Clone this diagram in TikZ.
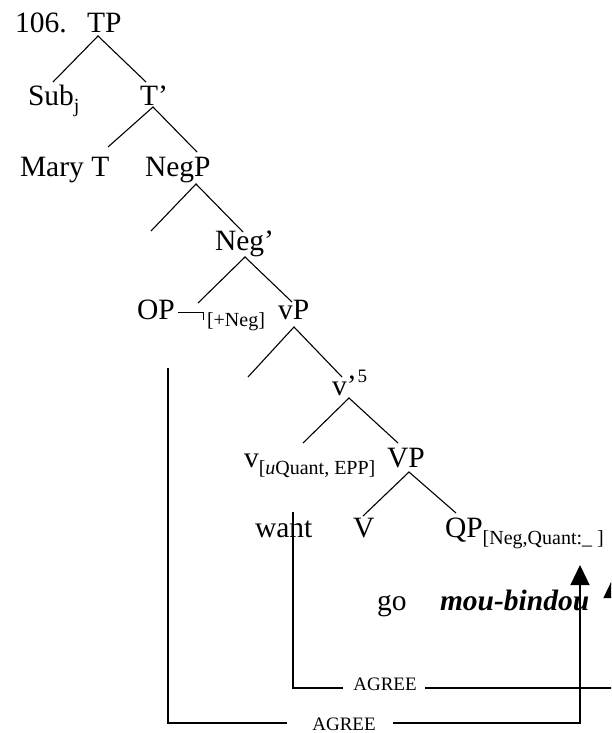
\documentclass[tikz,border=0pt]{standalone}
\usepackage{fontspec}
\setmainfont{Liberation Serif}
\usetikzlibrary{arrows.meta}

% lowered feature subscript and raised superscript
\newcommand{\featsub}[1]{\raisebox{-7pt}{\fontsize{20}{22}\selectfont #1}}
\newcommand{\featsup}[1]{\raisebox{13pt}{\fontsize{19}{21}\selectfont #1}}

\tikzset{
  word/.style={anchor=base west, inner sep=0pt, outer sep=0pt,
               font=\fontsize{29.5}{32}\selectfont},
  agreelabel/.style={anchor=base, inner sep=0pt, outer sep=0pt,
               font=\fontsize{19}{21}\selectfont},
  branch/.style={line width=1.1pt},
  agreeline/.style={line width=1.25pt},
  agreearrow/.style={line width=1.25pt, -{Triangle[width=19pt,length=20pt]}}
}

\begin{document}
\begin{tikzpicture}[x=1pt,y=-1pt]
\clip (0,0) rectangle (611,733);
\fill[white] (0,0) rectangle (611,733);

% labels of the tree
\node[word] (num)    at (15,33)  {106.};
\node[word] (tp)     at (87,33)  {TP};
\node[word] (sub)    at (28,106) {Sub\featsub{j}};
\node[word] (tbar)   at (140,106){T’};
\node[word] (mary)   at (20,176) {Mary T};
\node[word] (negp)   at (145,176){NegP};
\node[word] (negbar) at (215,250){Neg’};
\node[word] (op)     at (137,319){OP};
\node[word] (negft)  at (207,319){\featsub{[+Neg]}};
\node[word] (vp)     at (278,319){vP};
\node[word] (vbar)   at (332,395){v’\kern1pt\featsup{5}};
\node[word] (vlow)   at (244,467){v\featsub{[\textit{u}Quant, EPP]}};
\node[word] (vpbig)  at (387,467){VP};
\node[word] (want)   at (255,537){want};
\node[word] (verb)   at (353,537){V};
\node[word] (qp)     at (445,537){QP\featsub{[Neg,Quant:\_ ]}};
\node[word] (go)     at (377,610){go};
\node[word] (mou)    at (440,610){\bfseries\itshape mou-bindou};

% negation hook after OP
\coordinate (hookA) at (178,312);
\coordinate (hookB) at (203,312);
\coordinate (hookC) at (203,320);
\draw[line width=1pt] (hookA) -- (hookB) -- (hookC);

% branch points
\coordinate (tpB)  at (98,36);   \coordinate (tpL)  at (53,82);   \coordinate (tpR)  at (146,82);
\coordinate (tbB)  at (153,107); \coordinate (tbL)  at (108,147); \coordinate (tbR)  at (197,152);
\coordinate (ngB)  at (196,184); \coordinate (ngL)  at (151,231); \coordinate (ngR)  at (243,232);
\coordinate (nbB)  at (245,257); \coordinate (nbL)  at (198,303); \coordinate (nbR)  at (292,302);
\coordinate (vpB)  at (294,327); \coordinate (vpL)  at (248,377); \coordinate (vpR)  at (342,377);
\coordinate (vbB)  at (349,398); \coordinate (vbL)  at (303,443); \coordinate (vbR)  at (398,443);
\coordinate (VPB)  at (409,472); \coordinate (VPL)  at (363,516); \coordinate (VPR)  at (456,513);

\draw[branch] (tpL) -- (tpB) -- (tpR);
\draw[branch] (tbL) -- (tbB) -- (tbR);
\draw[branch] (ngL) -- (ngB) -- (ngR);
\draw[branch] (nbL) -- (nbB) -- (nbR);
\draw[branch] (vpL) -- (vpB) -- (vpR);
\draw[branch] (vbL) -- (vbB) -- (vbR);
\draw[branch] (VPL) -- (VPB) -- (VPR);

% AGREE relations
\node[agreelabel] (agreeA) at (385,690) {AGREE};
\node[agreelabel] (agreeB) at (344,730) {AGREE};

\coordinate (wantTop) at (293,512);
\coordinate (wantBot) at (293,688);
\coordinate (aAL) at (343,688);
\coordinate (aAR) at (425,688);
\coordinate (aAend) at (613,688);
\coordinate (aAtip) at (613,578);

\coordinate (opTop) at (168,368);
\coordinate (opBot) at (168,723);
\coordinate (aBL) at (287,723);
\coordinate (aBR) at (393,723);
\coordinate (aBend) at (580,723);
\coordinate (aBtip) at (580,565);

\draw[agreeline] (wantTop) -- (wantBot) -- (aAL);
\draw[agreearrow] (aAR) -- (aAend) -- (aAtip);
\draw[agreeline] (opTop) -- (opBot) -- (aBL);
\draw[agreearrow] (aBR) -- (aBend) -- (aBtip);
\end{tikzpicture}
\end{document}
